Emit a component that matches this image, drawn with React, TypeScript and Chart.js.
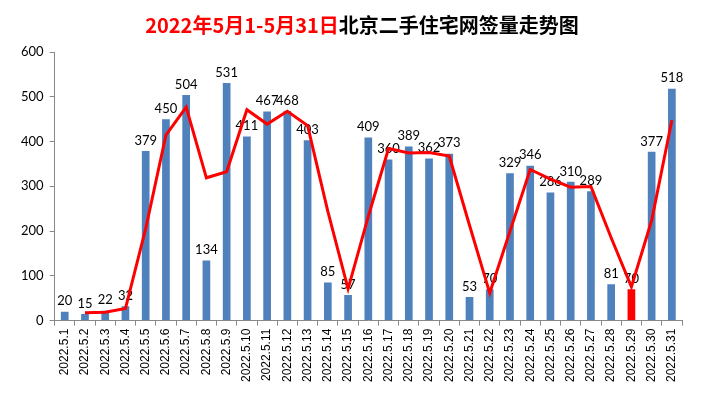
import React, { useEffect, useRef } from "react";
import { Chart, registerables } from "chart.js";

Chart.register(...registerables);

const dates = [
  "2022.5.1", "2022.5.2", "2022.5.3", "2022.5.4", "2022.5.5", "2022.5.6", "2022.5.7", "2022.5.8",
  "2022.5.9", "2022.5.10", "2022.5.11", "2022.5.12", "2022.5.13", "2022.5.14", "2022.5.15", "2022.5.16",
  "2022.5.17", "2022.5.18", "2022.5.19", "2022.5.20", "2022.5.21", "2022.5.22", "2022.5.23", "2022.5.24",
  "2022.5.25", "2022.5.26", "2022.5.27", "2022.5.28", "2022.5.29", "2022.5.30", "2022.5.31",
];

const deals = [
  20, 15, 22, 32, 379, 450, 504, 134, 531, 411, 467, 468, 403, 85, 57, 409,
  360, 389, 362, 373, 53, 70, 329, 346, 286, 310, 289, 81, 70, 377, 518,
];

const trend = [
  null, 17.5, 18.5, 27, 205.5, 414.5, 477, 319, 332.5, 471, 439, 467.5, 435.5, 244, 71, 233,
  384.5, 374.5, 375.5, 367.5, 213, 61.5, 199.5, 337.5, 316, 298, 299.5, 185, 75.5, 223.5, 447.5,
];

const highlightDate = "2022.5.29";
const titleRed = "2022年5月1-5月31日";
const titleBlack = "北京二手住宅网签量走势图";

const BLUE = "#4F81BD";
const RED = "#FF0000";

const titlePlugin = {
  id: "twoColorTitle",
  afterDraw(chart: any) {
    const ctx = chart.ctx;
    ctx.save();
    ctx.font = "bold 20px 'Noto Sans CJK SC'";
    ctx.textBaseline = "middle";
    const w1 = ctx.measureText(titleRed).width;
    const w2 = ctx.measureText(titleBlack).width;
    const x0 = 362 - (w1 + w2) / 2;
    const y = 25;
    ctx.fillStyle = RED;
    ctx.textAlign = "left";
    ctx.fillText(titleRed, x0, y);
    ctx.fillStyle = "#000000";
    ctx.fillText(titleBlack, x0 + w1, y);
    ctx.restore();
  },
};

const labelPlugin = {
  id: "barLabels",
  afterDatasetDraw(chart: any, args: any) {
    if (args.index !== 0) return;
    const ctx = chart.ctx;
    const meta = chart.getDatasetMeta(0);
    ctx.save();
    ctx.font = "13px Lato";
    ctx.fillStyle = "#000000";
    ctx.textAlign = "center";
    ctx.textBaseline = "bottom";
    meta.data.forEach((el: any, i: number) => {
      ctx.fillText(String(deals[i]), el.x, el.y - 4);
    });
    ctx.restore();
  },
};

export default function App() {
  const ref = useRef<HTMLCanvasElement | null>(null);

  useEffect(() => {
    if (!ref.current) return;
    const chart = new Chart(ref.current, {
      type: "bar",
      data: {
        labels: dates,
        datasets: [
          {
            type: "bar",
            data: deals,
            backgroundColor: dates.map((d) => (d === highlightDate ? RED : BLUE)),
            barPercentage: 0.38,
            categoryPercentage: 1,
            order: 2,
          },
          {
            type: "line",
            data: trend as any,
            borderColor: RED,
            borderWidth: 3,
            pointRadius: 0,
            tension: 0,
            fill: false,
            order: 1,
          } as any,
        ],
      },
      options: {
        animation: false,
        responsive: false,
        maintainAspectRatio: false,
        layout: { padding: { top: 52, left: 15, right: 38, bottom: 19 } },
        plugins: {
          legend: { display: false },
          tooltip: { enabled: false },
          title: { display: false },
        },
        scales: {
          x: {
            offset: true,
            grid: {
              offset: true,
              drawOnChartArea: false,
              drawTicks: true,
              tickLength: 5,
              color: "#888888",
            },
            border: { display: true, color: "#888888" },
            ticks: {
              minRotation: 90,
              maxRotation: 90,
              autoSkip: false,
              padding: 3,
              color: "#000000",
              font: { family: "'Liberation Sans'", size: 12 },
            },
          },
          y: {
            min: 0,
            max: 600,
            grid: {
              drawOnChartArea: false,
              drawTicks: true,
              tickLength: 5,
              color: "#888888",
            },
            border: { display: true, color: "#888888" },
            ticks: {
              stepSize: 100,
              padding: 6,
              color: "#000000",
              font: { family: "Lato", size: 13 },
            },
          },
        },
      },
      plugins: [titlePlugin, labelPlugin],
    });
    return () => chart.destroy();
  }, []);

  return (
    <div style={{ position: "fixed", left: 0, top: 0, width: 720, height: 404, background: "#fff" }}>
      <canvas ref={ref} width={720} height={404} style={{ width: 720, height: 404 }} />
    </div>
  );
}
